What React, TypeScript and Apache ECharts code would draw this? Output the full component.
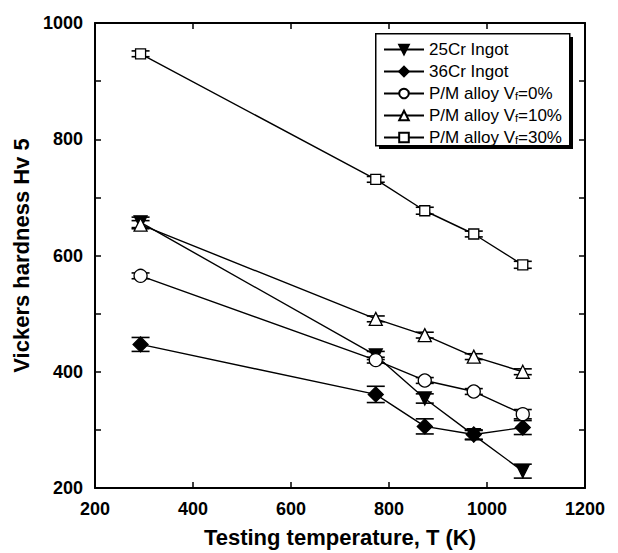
import React, { useEffect, useRef } from "react";
import * as echarts from "echarts";

const temps = [293, 773, 873, 973, 1073];
const cr25 = [657, 428, 354, 291, 229];
const cr25Err = [9, 7, 8, 8, 12];
const cr36 = [447, 361, 306, 292, 304];
const cr36Err = [12, 14, 13, 8, 12];
const vf0 = [565, 420, 385, 366, 327];
const vf0Err = [5, 5, 5, 5, 8];
const vf10 = [653, 491, 463, 426, 400];
const vf10Err = [7, 5, 5, 5, 5];
const vf30 = [947, 731, 677, 637, 584];
const vf30Err = [5, 5, 6, 5, 6];

const names = ["25Cr Ingot", "36Cr Ingot", "P/M alloy Vf=0%", "P/M alloy Vf=10%", "P/M alloy Vf=30%"];
const yLabels = [200, 400, 600, 800, 1000];

const FONT = "'Liberation Sans', Arial, sans-serif";

export default function App() {
  const ref = useRef<HTMLDivElement>(null);
  useEffect(() => {
    const chart = echarts.init(ref.current!, null, { renderer: "svg" });
    const sets = [
      { name: names[0], y: cr25, e: cr25Err, symbol: "triangle", rotate: 180, fill: "#000", size: 13 },
      { name: names[1], y: cr36, e: cr36Err, symbol: "diamond", rotate: 0, fill: "#000", size: 15 },
      { name: names[2], y: vf0, e: vf0Err, symbol: "circle", rotate: 0, fill: "#fff", size: 13 },
      { name: names[3], y: vf10, e: vf10Err, symbol: "triangle", rotate: 0, fill: "#fff", size: 13 },
      { name: names[4], y: vf30, e: vf30Err, symbol: "rect", rotate: 0, fill: "#fff", size: 10 },
    ];
    const series: any[] = [];
    sets.forEach((s) => {
      series.push({
        type: "custom",
        name: s.name + " err",
        z: 3,
        silent: true,
        data: temps.map((t, i) => [t, s.y[i] - s.e[i], s.y[i] + s.e[i]]),
        renderItem: (params: any, api: any) => {
          const lo = api.coord([api.value(0), api.value(1)]);
          const hi = api.coord([api.value(0), api.value(2)]);
          const w = 9;
          const st = { stroke: "#000", lineWidth: 1.6 };
          return {
            type: "group",
            children: [
              { type: "line", shape: { x1: lo[0], y1: lo[1], x2: hi[0], y2: hi[1] }, style: st },
              { type: "line", shape: { x1: lo[0] - w, y1: lo[1], x2: lo[0] + w, y2: lo[1] }, style: st },
              { type: "line", shape: { x1: hi[0] - w, y1: hi[1], x2: hi[0] + w, y2: hi[1] }, style: st },
            ],
          };
        },
      });
      series.push({
        type: "line",
        name: s.name,
        z: 4,
        data: temps.map((t, i) => [t, s.y[i]]),
        symbol: s.symbol,
        symbolRotate: s.rotate,
        symbolSize: s.size,
        showAllSymbol: true,
        lineStyle: { color: "#000", width: 1.4 },
        itemStyle: { color: s.fill, borderColor: "#000", borderWidth: 1.3, opacity: 1 },
      });
    });

    const axisCommon = {
      type: "value",
      axisLine: { show: true, lineStyle: { color: "#000", width: 2 } },
      axisTick: { show: true, inside: true, length: 6, lineStyle: { color: "#000", width: 1.5 } },
      splitLine: { show: false },
    };

    chart.setOption({
      animation: false,
      backgroundColor: "#fff",
      grid: { left: 95, right: 33, top: 23, bottom: 62, containLabel: false },
      legend: {
        orient: "vertical",
        left: 383,
        top: 41,
        z: 10,
        data: names,
        itemWidth: 40,
        itemHeight: 12,
        itemGap: 5,
        padding: 0,
        textStyle: {
          fontFamily: FONT,
          fontSize: 17,
          color: "#000",
          rich: { s: { fontFamily: FONT, fontSize: 11, color: "#000", padding: [5, 0, 0, 0] } },
        },
        formatter: (n: string) => n.replace("Vf", "V{s|f}"),
      },
      xAxis: [
        {
          ...axisCommon,
          position: "bottom",
          min: 200,
          max: 1200,
          interval: 200,
          name: "Testing temperature, T (K)",
          nameLocation: "middle",
          nameGap: 38,
          nameTextStyle: { fontFamily: FONT, fontSize: 22, fontWeight: "bold", color: "#000" },
          axisLabel: { fontFamily: FONT, fontSize: 18, fontWeight: "bold", color: "#000", margin: 12, formatter: (v: number) => String(v) },
        },
        {
          ...axisCommon,
          position: "top",
          min: 200,
          max: 1200,
          interval: 200,
          axisLabel: { show: false },
        },
      ],
      yAxis: [
        {
          ...axisCommon,
          position: "left",
          min: 200,
          max: 1000,
          interval: 100,
          name: "Vickers hardness Hv 5",
          nameLocation: "middle",
          nameGap: 62,
          nameTextStyle: { fontFamily: FONT, fontSize: 22, fontWeight: "bold", color: "#000" },
          axisLabel: {
            fontFamily: FONT,
            fontSize: 18,
            fontWeight: "bold",
            color: "#000",
            margin: 12,
            formatter: (v: number) => (yLabels.indexOf(v) >= 0 ? String(v) : ""),
          },
        },
        {
          ...axisCommon,
          position: "right",
          min: 200,
          max: 1000,
          interval: 100,
          axisLabel: { show: false },
        },
      ],
      graphic: [
        { type: "rect", left: 379, top: 37, z: 1, shape: { width: 194, height: 112 }, style: { fill: "#000" } },
        { type: "rect", left: 375, top: 33, z: 2, shape: { width: 194, height: 112 }, style: { fill: "#fff", stroke: "#000", lineWidth: 1.5 } },
      ],
      series,
    });
    return () => chart.dispose();
  }, []);
  return <div ref={ref} style={{ position: "absolute", left: 0, top: 0, width: 618, height: 553 }} />;
}
